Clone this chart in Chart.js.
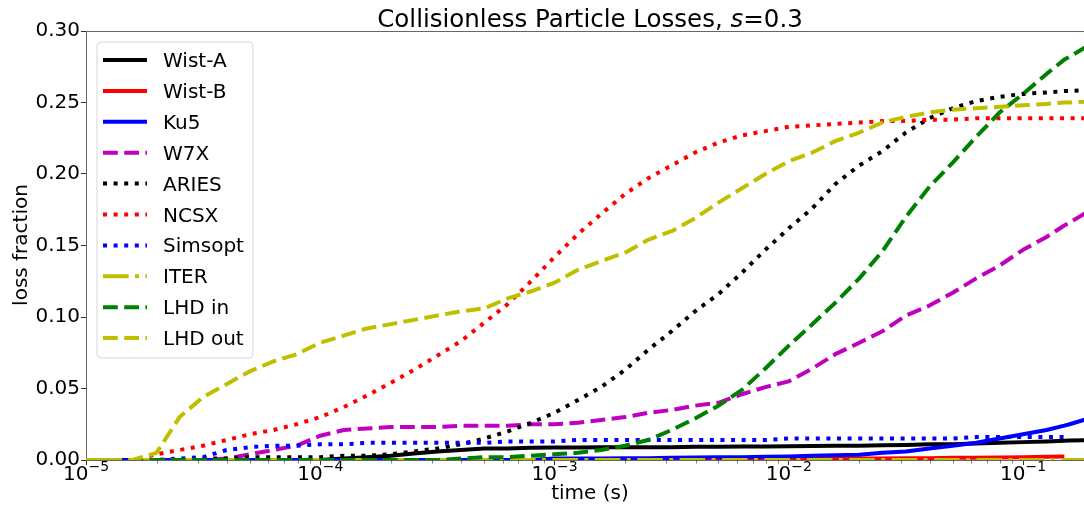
<!DOCTYPE html>
<html>
<head>
<meta charset="utf-8">
<script src="https://cdn.jsdelivr.net/npm/chart.js@4.4.1/dist/chart.umd.min.js"></script>
<style>
  html, body { margin: 0; padding: 0; background: #fff; }
  #wrap { width: 1084px; height: 508px; }
</style>
</head>
<body>
<div id="wrap"><canvas id="myChart" width="1084" height="508"></canvas></div>
<script>
// time grid (s), log spaced, shared by every series
var times = [
  1.00e-5, 1.26e-5, 1.58e-5, 2.00e-5, 2.51e-5, 3.16e-5, 3.98e-5, 5.01e-5, 6.31e-5, 7.94e-5,
  1.00e-4, 1.26e-4, 1.58e-4, 2.00e-4, 2.51e-4, 3.16e-4, 3.98e-4, 5.01e-4, 6.31e-4, 7.94e-4,
  1.00e-3, 1.26e-3, 1.58e-3, 2.00e-3, 2.51e-3, 3.16e-3, 3.98e-3, 5.01e-3, 6.31e-3, 7.94e-3,
  1.00e-2, 1.26e-2, 1.58e-2, 2.00e-2, 2.51e-2, 3.16e-2, 3.98e-2, 5.01e-2, 6.31e-2, 7.94e-2,
  0.100, 0.126, 0.150, 0.158, 0.200
];

// loss fraction per configuration
var wistA = [
  0, 0, 0, 0, 0, 0, 0, 0, 0, 0,
  0, 0.001, 0.002, 0.003, 0.0045, 0.006, 0.007, 0.008, 0.008, 0.0085,
  0.0087, 0.0088, 0.009, 0.009, 0.009, 0.009, 0.0092, 0.0093, 0.0094, 0.0095,
  0.0096, 0.0098, 0.010, 0.010, 0.0103, 0.0105, 0.011, 0.011, 0.0115, 0.012,
  0.0125, 0.013, 0.0135, 0.0137, 0.014
];
var wistB = [
  0, 0, 0, 0, 0, 0, 0, 0, 0, 0,
  0, 0, 0, 0, 0, 0, 0, 0, 0, 0,
  0, 0, 0, 0, 0, 0, 0, 0, 0, 0,
  0.0005, 0.0007, 0.0008, 0.001, 0.001, 0.0012, 0.0013, 0.0015, 0.0016, 0.0018,
  0.002, 0.0022, 0.0025
];
var ku5 = [
  0, 0, 0, 0, 0, 0, 0, 0, 0, 0,
  0, 0, 0, 0, 0, 0, 0, 0, 0, 0,
  0.001, 0.001, 0.001, 0.0012, 0.0013, 0.0015, 0.0017, 0.002, 0.002, 0.0022,
  0.0025, 0.003, 0.0033, 0.0037, 0.005, 0.006, 0.008, 0.010, 0.012, 0.015,
  0.018, 0.021, 0.024, 0.025, 0.030
];
var w7x = [
  0, 0, 0, 0, 0, 0, 0.001, 0.004, 0.007, 0.010,
  0.017, 0.021, 0.022, 0.023, 0.023, 0.023, 0.024, 0.024, 0.024, 0.025,
  0.025, 0.026, 0.028, 0.030, 0.033, 0.035, 0.038, 0.040, 0.046, 0.051,
  0.055, 0.064, 0.074, 0.082, 0.090, 0.101, 0.108, 0.117, 0.127, 0.136,
  0.147, 0.156, 0.164, 0.166, 0.176
];
var aries = [
  0, 0, 0, 0, 0, 0.001, 0.001, 0.002, 0.002, 0.002,
  0.002, 0.003, 0.003, 0.004, 0.006, 0.008, 0.011, 0.015, 0.020, 0.026,
  0.033, 0.042, 0.051, 0.063, 0.077, 0.090, 0.104, 0.116, 0.131, 0.147,
  0.162, 0.176, 0.193, 0.206, 0.216, 0.229, 0.239, 0.246, 0.251, 0.254,
  0.256, 0.257, 0.258, 0.258, 0.259
];
var ncsx = [
  0, 0, 0, 0.004, 0.007, 0.010, 0.014, 0.018, 0.021, 0.025,
  0.030, 0.037, 0.045, 0.054, 0.063, 0.073, 0.083, 0.096, 0.109, 0.125,
  0.142, 0.158, 0.172, 0.186, 0.197, 0.206, 0.215, 0.222, 0.227, 0.230,
  0.233, 0.234, 0.235, 0.236, 0.237, 0.237, 0.238, 0.238, 0.239, 0.239,
  0.239, 0.239, 0.239, 0.239, 0.239
];
var simsopt = [
  0, 0, 0, 0, 0.001, 0.002, 0.007, 0.009, 0.010, 0.010,
  0.011, 0.011, 0.012, 0.012, 0.012, 0.012, 0.012, 0.012, 0.013, 0.013,
  0.013, 0.014, 0.014, 0.014, 0.014, 0.014, 0.014, 0.014, 0.014, 0.014,
  0.015, 0.015, 0.015, 0.015, 0.015, 0.015, 0.015, 0.015, 0.016, 0.016,
  0.016, 0.016, 0.016
];
var iter = [
  0, 0, 0, 0, 0, 0, 0, 0, 0, 0,
  0, 0, 0, 0, 0, 0, 0, 0, 0, 0,
  0, 0, 0, 0, 0, 0, 0, 0, 0, 0,
  0, 0, 0, 0, 0, 0, 0, 0, 0, 0,
  0, 0, 0, 0, 0
];
var lhdIn = [
  0, 0, 0, 0, 0, 0, 0, 0, 0, 0,
  0, 0, 0, 0, 0, 0, 0.001, 0.002, 0.002, 0.003,
  0.004, 0.005, 0.007, 0.010, 0.014, 0.021, 0.029, 0.038, 0.049, 0.064,
  0.080, 0.095, 0.110, 0.127, 0.146, 0.170, 0.191, 0.208, 0.226, 0.243,
  0.256, 0.270, 0.280, 0.282, 0.292
];
var lhdOut = [
  0, 0, 0, 0.005, 0.030, 0.044, 0.053, 0.062, 0.069, 0.074,
  0.082, 0.087, 0.092, 0.095, 0.098, 0.101, 0.104, 0.106, 0.113, 0.118,
  0.124, 0.133, 0.139, 0.145, 0.154, 0.160, 0.169, 0.180, 0.190, 0.200,
  0.209, 0.215, 0.223, 0.229, 0.236, 0.240, 0.243, 0.245, 0.246, 0.247,
  0.248, 0.249, 0.250, 0.250, 0.251
];

var names = ['Wist-A', 'Wist-B', 'Ku5', 'W7X', 'ARIES', 'NCSX', 'Simsopt', 'ITER', 'LHD in', 'LHD out'];
var values = [wistA, wistB, ku5, w7x, aries, ncsx, simsopt, iter, lhdIn, lhdOut];

var yTicks = [0, 0.05, 0.10, 0.15, 0.20, 0.25, 0.30];
var xMajor = [1e-5, 1e-4, 1e-3, 1e-2, 1e-1];
var xExponents = ['\u22125', '\u22124', '\u22123', '\u22122', '\u22121'];

// styles (matplotlib-ish, lw 4)
var colors = ['#000000', '#ff0000', '#0000ff', '#bf00bf', '#000000', '#ff0000', '#0000ff', '#bfbf00', '#008000', '#bfbf00'];
var dotted = [4, 6.6], dashed = [14.8, 6.4], dashdot = [25.6, 6.4, 4, 6.4];
var dashes = [[], [], [], dashed, dotted, dotted, dotted, dashdot, dashed, dashed];

var FONT = "'DejaVu Sans', sans-serif";
Chart.defaults.font.family = FONT;

var datasets = values.map(function (vals, i) {
  return {
    label: names[i],
    data: vals.map(function (v, j) { return { x: times[j], y: v }; }),
    borderColor: colors[i],
    backgroundColor: colors[i],
    borderWidth: 4,
    borderDash: dashes[i],
    borderCapStyle: 'butt',
    borderJoinStyle: 'round',
    pointRadius: 0,
    tension: 0,
    fill: false,
    clip: 0,
    order: values.length - i   // later series on top, like matplotlib
  };
});

var extras = {
  id: 'extras',
  afterDraw: function (chart) {
    var ctx = chart.ctx, a = chart.chartArea;
    var xs = chart.scales.x;
    ctx.save();

    // top spine
    ctx.strokeStyle = '#666';
    ctx.lineWidth = 1;
    ctx.beginPath();
    ctx.moveTo(a.left, a.top + 0.5);
    ctx.lineTo(a.right, a.top + 0.5);
    ctx.stroke();

    // minor x ticks (shorter than the major ones)
    ctx.strokeStyle = '#333';
    ctx.lineWidth = 0.6;
    xs.ticks.forEach(function (t) {
      if (t.major) return;
      var px = Math.round(xs.getPixelForValue(t.value)) + 0.5;
      ctx.beginPath();
      ctx.moveTo(px, a.bottom);
      ctx.lineTo(px, a.bottom + 3.5);
      ctx.stroke();
    });

    // x tick labels 10^n
    ctx.fillStyle = '#000';
    ctx.textBaseline = 'alphabetic';
    ctx.textAlign = 'left';
    xMajor.forEach(function (v, i) {
      var px = xs.getPixelForValue(v);
      ctx.font = '20px ' + FONT;
      var w1 = ctx.measureText('10').width;
      ctx.font = '14px ' + FONT;
      var w2 = ctx.measureText(xExponents[i]).width;
      var x0 = px - (w1 + w2) / 2;
      ctx.font = '20px ' + FONT;
      ctx.fillText('10', x0, 480);
      ctx.font = '14px ' + FONT;
      ctx.fillText(xExponents[i], x0 + w1, 471);
    });

    // axis labels
    ctx.font = '20px ' + FONT;
    ctx.textAlign = 'center';
    ctx.fillText('time (s)', 590, 499);
    ctx.save();
    ctx.translate(27, 245);
    ctx.rotate(-Math.PI / 2);
    ctx.fillText('loss fraction', 0, 0);
    ctx.restore();

    // title with italic s
    var t1 = 'Collisionless Particle Losses, ', t2 = 's', t3 = '=0.3';
    var tf = '24.5px ';
    ctx.font = tf + FONT;
    var w1 = ctx.measureText(t1).width, w3 = ctx.measureText(t3).width;
    ctx.font = 'italic ' + tf + FONT;
    var w2 = ctx.measureText(t2).width;
    var tx = 590 - (w1 + w2 + w3) / 2;
    ctx.textAlign = 'left';
    ctx.font = tf + FONT;
    ctx.fillText(t1, tx, 27);
    ctx.font = 'italic ' + tf + FONT;
    ctx.fillText(t2, tx + w1, 27);
    ctx.font = tf + FONT;
    ctx.fillText(t3, tx + w1 + w2, 27);

    // legend box
    var bx = 97, by = 42, bw = 156, bh = 316, r = 4;
    ctx.beginPath();
    ctx.moveTo(bx + r, by);
    ctx.lineTo(bx + bw - r, by);
    ctx.quadraticCurveTo(bx + bw, by, bx + bw, by + r);
    ctx.lineTo(bx + bw, by + bh - r);
    ctx.quadraticCurveTo(bx + bw, by + bh, bx + bw - r, by + bh);
    ctx.lineTo(bx + r, by + bh);
    ctx.quadraticCurveTo(bx, by + bh, bx, by + bh - r);
    ctx.lineTo(bx, by + r);
    ctx.quadraticCurveTo(bx, by, bx + r, by);
    ctx.closePath();
    ctx.fillStyle = 'rgba(255,255,255,0.8)';
    ctx.fill();
    ctx.strokeStyle = 'rgba(204,204,204,0.8)';
    ctx.lineWidth = 1;
    ctx.stroke();

    ctx.font = '20px ' + FONT;
    ctx.textAlign = 'left';
    names.forEach(function (name, i) {
      var y = 60 + i * 30.9;
      ctx.strokeStyle = colors[i];
      ctx.lineWidth = 4;
      ctx.lineCap = 'butt';
      ctx.setLineDash(dashes[i]);
      ctx.beginPath();
      ctx.moveTo(103, y);
      ctx.lineTo(147, y);
      ctx.stroke();
      ctx.setLineDash([]);
      ctx.fillStyle = '#000';
      ctx.fillText(name, 163, y + 7);
    });

    ctx.restore();
  }
};

var chart = new Chart(document.getElementById('myChart').getContext('2d'), {
  type: 'line',
  data: { datasets: datasets },
  options: {
    responsive: false,
    animation: false,
    devicePixelRatio: 1,
    layout: { padding: { top: 31, left: 0, right: 0, bottom: 0 } },
    plugins: { legend: { display: false }, title: { display: false }, tooltip: { enabled: false } },
    scales: {
      x: {
        type: 'logarithmic',
        min: 1e-5,
        max: 0.182,
        afterBuildTicks: function (scale) {
          var ticks = [];
          xMajor.forEach(function (base) {
            for (var m = 1; m <= 9; m++) {
              var v = m * base;
              if (v <= 0.182) ticks.push({ value: v, major: m === 1 });
            }
          });
          scale.ticks = ticks;
        },
        afterFit: function (scale) { scale.height = 48; },
        ticks: { display: false, autoSkip: false },
        grid: {
          display: true, drawOnChartArea: false, drawTicks: true, tickLength: 5,
          tickColor: function (c) { return c.tick && c.tick.major ? '#333' : 'rgba(0,0,0,0)'; },
          tickWidth: 1
        },
        border: { display: true, color: '#666', width: 1 }
      },
      y: {
        type: 'linear',
        min: 0,
        max: 0.3,
        afterBuildTicks: function (scale) {
          scale.ticks = yTicks.map(function (v) { return { value: v }; });
        },
        afterFit: function (scale) { scale.width = 86; },
        ticks: {
          font: { size: 20, family: FONT }, color: '#000', padding: 1,
          callback: function (v) { return Number(v).toFixed(2); }
        },
        grid: { display: true, drawOnChartArea: false, drawTicks: true, tickLength: 5, tickColor: '#333' },
        border: { display: true, color: '#666', width: 1 }
      }
    }
  },
  plugins: [extras]
});
</script>
</body>
</html>
